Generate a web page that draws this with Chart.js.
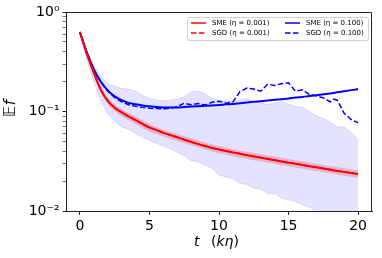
<!DOCTYPE html>
<html>
<head>
<meta charset="utf-8">
<script src="https://cdn.jsdelivr.net/npm/chart.js@4.4.1/dist/chart.umd.min.js"></script>
<style>
html, body { margin: 0; padding: 0; background: #fff; }
</style>
</head>
<body>
<canvas id="myChart" width="382" height="258"></canvas>
<script>
// sampling grid (t in units of k*eta)
var tGrid = [0, 0.5, 1, 1.5, 2, 2.5, 3, 3.5, 4, 4.5, 5, 5.5, 6, 6.5, 7, 7.5, 8, 8.5, 9, 9.5, 10,
             10.5, 11, 11.5, 12, 12.5, 13, 13.5, 14, 14.5, 15, 15.5, 16, 16.5, 17, 17.5, 18, 18.5, 19, 19.5, 20];
var tInt = [0, 1, 2, 3, 4, 5, 6, 7, 8, 9, 10, 11, 12, 13, 14, 15, 16, 17, 18, 19, 20];

// SME, eta = 0.001 (red solid)
var smeSmall = [0.63, 0.38, 0.245, 0.165, 0.128, 0.109, 0.098, 0.089, 0.082, 0.075, 0.069, 0.065, 0.061, 0.058, 0.055, 0.052,
                0.0495, 0.047, 0.045, 0.043, 0.0415, 0.0401, 0.0388, 0.0376, 0.0364, 0.0353, 0.0343, 0.0333, 0.0324, 0.0315,
                0.0306, 0.0298, 0.029, 0.0282, 0.0275, 0.0267, 0.026, 0.0253, 0.0247, 0.0241, 0.0235];
// SGD, eta = 0.001 (red dashed)
var sgdSmall = [0.63, 0.382, 0.246, 0.166, 0.129, 0.1095, 0.0985, 0.0893, 0.0823, 0.0754, 0.0693, 0.0652, 0.0613, 0.0582, 0.0552, 0.0522,
                0.0497, 0.0472, 0.0452, 0.0431, 0.0417, 0.0403, 0.039, 0.0377, 0.0366, 0.0355, 0.0344, 0.0335, 0.0326, 0.0317,
                0.0307, 0.03, 0.0291, 0.0283, 0.0276, 0.0268, 0.0261, 0.0254, 0.0248, 0.0242, 0.0236];
// SME, eta = 0.100 (blue solid)
var smeLarge = [0.63, 0.39, 0.265, 0.2, 0.163, 0.142, 0.13, 0.122, 0.118, 0.115, 0.113, 0.111, 0.11, 0.11, 0.11, 0.111,
                0.112, 0.113, 0.114, 0.115, 0.116, 0.118, 0.119, 0.121, 0.123, 0.125, 0.127, 0.129, 0.131, 0.133,
                0.135, 0.138, 0.14, 0.143, 0.146, 0.149, 0.152, 0.156, 0.16, 0.164, 0.168];
// SGD, eta = 0.100 (blue dashed)
var tSgdLarge = [0, 0.5, 1, 1.5, 2, 2.5, 3, 3.5, 4, 4.5, 5, 5.5, 6, 6.5, 7, 7.5, 8, 8.5, 9, 9.5, 10,
                 10.5, 11, 11.5, 12, 12.5, 13, 13.5, 14, 14.5, 15, 15.5, 16, 16.5, 17, 17.5, 18, 18.25, 18.5, 19, 19.5, 20];
var sgdLarge = [0.63, 0.39, 0.262, 0.197, 0.16, 0.138, 0.125, 0.117, 0.113, 0.11, 0.108, 0.107, 0.106, 0.108, 0.112, 0.121,
                0.117, 0.12, 0.116, 0.124, 0.127, 0.121, 0.125, 0.158, 0.172, 0.168, 0.16, 0.188, 0.183, 0.19,
                0.194, 0.16, 0.165, 0.148, 0.144, 0.137, 0.125, 0.133, 0.13, 0.096, 0.083, 0.077];

// spread of SGD, eta = 0.100 (light blue band)
var bandLargeHi = [0.63, 0.41, 0.29, 0.225, 0.19, 0.18, 0.17, 0.168, 0.16, 0.145, 0.135, 0.13, 0.128, 0.13, 0.133, 0.14,
                   0.158, 0.16, 0.15, 0.135, 0.13, 0.128, 0.125, 0.13, 0.135, 0.125, 0.122, 0.118, 0.12, 0.125,
                   0.118, 0.112, 0.11, 0.1, 0.09, 0.085, 0.078, 0.07, 0.07, 0.062, 0.052];
var bandLargeLo = [0.6, 0.33, 0.2, 0.13, 0.095, 0.08, 0.07, 0.066, 0.06, 0.055, 0.051, 0.048, 0.045, 0.042, 0.039, 0.036,
                   0.032, 0.031, 0.029, 0.027, 0.023, 0.022, 0.021, 0.019, 0.0185, 0.017, 0.0165, 0.015, 0.015, 0.0135,
                   0.013, 0.0125, 0.0115, 0.011, 0.0098, 0.009, 0.008, 0.0072, 0.0065, 0.006, 0.0055];
// spread of SGD, eta = 0.001 (thin pink band)
var bandSmallHi = [0.64, 0.265, 0.138, 0.106, 0.089, 0.075, 0.066, 0.0595, 0.0538, 0.0488, 0.045, 0.042, 0.0394, 0.0371,
                   0.0352, 0.0333, 0.0316, 0.0299, 0.0283, 0.0269, 0.0256];
var bandSmallLo = [0.62, 0.225, 0.118, 0.09, 0.075, 0.063, 0.056, 0.0505, 0.0457, 0.0415, 0.038, 0.0356, 0.0334, 0.0315,
                   0.0297, 0.0281, 0.0266, 0.0252, 0.0239, 0.0226, 0.0215];

var xTicks = [0, 5, 10, 15, 20];
var yTicks = [0.01, 0.02, 0.03, 0.04, 0.05, 0.06, 0.07, 0.08, 0.09,
              0.1, 0.2, 0.3, 0.4, 0.5, 0.6, 0.7, 0.8, 0.9, 1];
var yTickLabels = { '1': '10\u2070', '0.1': '10\u207B\u00B9', '0.01': '10\u207B\u00B2' };

var seriesLabels = ['SME (\u03B7 = 0.001)', 'SGD (\u03B7 = 0.001)', 'SME (\u03B7 = 0.100)', 'SGD (\u03B7 = 0.100)'];

function pts(xs, ys) {
    return xs.map(function (x, i) { return { x: x, y: ys[i] }; });
}

// top/right spines, axis titles and the boxed legend
var extras = {
    id: 'extras',
    afterDraw: function (chart) {
        var ctx = chart.ctx, a = chart.chartArea;
        ctx.save();
        ctx.strokeStyle = '#222';
        ctx.lineWidth = 1;
        ctx.beginPath();
        ctx.moveTo(a.left, a.top + 0.5);
        ctx.lineTo(a.right - 0.5, a.top + 0.5);
        ctx.lineTo(a.right - 0.5, a.bottom);
        ctx.stroke();

        // x title: t   (k eta)
        ctx.fillStyle = '#000';
        ctx.textBaseline = 'alphabetic';
        ctx.textAlign = 'left';
        ctx.font = 'italic 14px "DejaVu Sans"';
        ctx.fillText('t', 194, 246);
        var x = 211;
        ctx.font = '14px "DejaVu Sans"';
        ctx.fillText('(', x, 246);
        x += ctx.measureText('(').width;
        ctx.font = 'italic 14px "DejaVu Sans"';
        ctx.fillText('k\u03B7', x, 246);
        x += ctx.measureText('k\u03B7').width;
        ctx.font = '14px "DejaVu Sans"';
        ctx.fillText(')', x, 246);

        // y title
        ctx.save();
        ctx.translate(15, 109);
        ctx.rotate(-Math.PI / 2);
        ctx.textAlign = 'left';
        ctx.textBaseline = 'alphabetic';
        ctx.font = 'italic 15px "DejaVu Sans"';
        var wE = ctx.measureText('\uD835\uDD3C').width;
        var wF = ctx.measureText('f').width;
        ctx.fillText('\uD835\uDD3C', -(wE + wF) / 2, 0);
        ctx.fillText('f', -(wE + wF) / 2 + wE + 1, 0);
        ctx.restore();

        // legend
        ctx.fillStyle = 'rgba(255,255,255,0.85)';
        ctx.strokeStyle = '#d0d0d0';
        ctx.lineWidth = 1;
        ctx.beginPath();
        ctx.roundRect(187.5, 17.5, 181, 23, 2);
        ctx.fill();
        ctx.stroke();
        var slots = [[191, 23], [191, 33], [285, 23], [285, 33]];
        ctx.font = '7px "DejaVu Sans"';
        ctx.textBaseline = 'middle';
        for (var i = 0; i < 4; i++) {
            var ds = chart.data.datasets[i];
            var sx = slots[i][0], sy = slots[i][1];
            ctx.strokeStyle = ds.borderColor;
            ctx.lineWidth = 1.5;
            ctx.setLineDash(ds.borderDash || []);
            ctx.beginPath();
            ctx.moveTo(sx, sy);
            ctx.lineTo(sx + 15, sy);
            ctx.stroke();
            ctx.setLineDash([]);
            ctx.fillStyle = '#000';
            ctx.fillText(ds.label, sx + 21, sy);
        }
        ctx.restore();
    }
};

const ctx = document.getElementById('myChart');
const myChart = new Chart(ctx, {
    type: 'line',
    data: {
        datasets: [
            { label: seriesLabels[0], data: pts(tGrid, smeSmall), borderColor: '#ff0000', borderWidth: 2,
              pointRadius: 0, cubicInterpolationMode: 'monotone' },
            { label: seriesLabels[1], data: pts(tGrid, sgdSmall), borderColor: '#ff0000', borderWidth: 1.5,
              borderDash: [5.5, 2.4], pointRadius: 0, cubicInterpolationMode: 'monotone' },
            { label: seriesLabels[2], data: pts(tGrid, smeLarge), borderColor: '#0000ff', borderWidth: 2,
              pointRadius: 0, cubicInterpolationMode: 'monotone' },
            { label: seriesLabels[3], data: pts(tSgdLarge, sgdLarge), borderColor: '#0000ff', borderWidth: 1.5,
              borderDash: [5.5, 2.4], pointRadius: 0, tension: 0 },
            { label: 'band large hi', data: pts(tGrid, bandLargeHi), borderColor: 'rgba(0,0,255,0.12)', borderWidth: 1,
              backgroundColor: 'rgba(0,0,255,0.11)', pointRadius: 0, fill: 5 },
            { label: 'band large lo', data: pts(tGrid, bandLargeLo), borderColor: 'rgba(0,0,255,0.12)', borderWidth: 1,
              pointRadius: 0, fill: false },
            { label: 'band small hi', data: pts(tInt, bandSmallHi), borderWidth: 0,
              backgroundColor: 'rgba(255,0,0,0.22)', pointRadius: 0, fill: 7, cubicInterpolationMode: 'monotone' },
            { label: 'band small lo', data: pts(tInt, bandSmallLo), borderWidth: 0,
              pointRadius: 0, fill: false, cubicInterpolationMode: 'monotone' }
        ]
    },
    options: {
        responsive: false,
        animation: false,
        layout: { padding: { left: 0, right: 10, top: 12, bottom: 0 } },
        plugins: { legend: { display: false }, tooltip: { enabled: false } },
        scales: {
            x: {
                type: 'linear', min: -1, max: 21,
                afterBuildTicks: function (s) { s.ticks = xTicks.map(function (v) { return { value: v }; }); },
                afterFit: function (s) { s.height = 47; },
                grid: { drawOnChartArea: false, drawTicks: true, tickLength: 4, color: '#222' },
                border: { color: '#222', width: 1 },
                ticks: { color: '#000', padding: 3, font: { family: 'DejaVu Sans', size: 14 }, maxRotation: 0 }
            },
            y: {
                type: 'logarithmic', min: 0.01, max: 1,
                afterBuildTicks: function (s) { s.ticks = yTicks.map(function (v) { return { value: v }; }); },
                afterFit: function (s) { s.width = 66; },
                grid: { drawOnChartArea: false, drawTicks: true, tickLength: 3.5, color: '#222',
                        tickWidth: function (c) { return yTickLabels[String(c.tick.value)] ? 1 : 0.6; } },
                border: { color: '#222', width: 1 },
                ticks: {
                    color: '#000', padding: 3, autoSkip: false,
                    font: { family: 'DejaVu Sans', size: 14 },
                    callback: function (v) { return yTickLabels[String(v)] || ''; }
                }
            }
        }
    },
    plugins: [extras]
});
</script>
</body>
</html>
